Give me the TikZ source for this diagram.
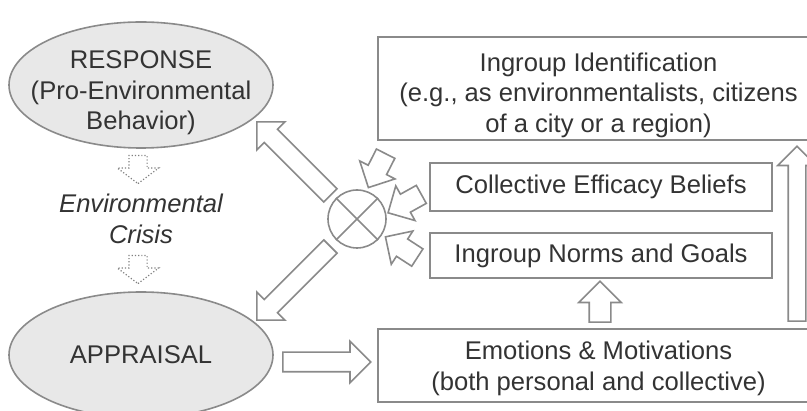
\documentclass[tikz,border=0pt]{standalone}
\usepackage{fontspec}
\setmainfont{Liberation Sans}
\usetikzlibrary{shapes.geometric,shapes.arrows}
\definecolor{linegray}{HTML}{8A8A8A}
\definecolor{txtgray}{HTML}{333333}
\definecolor{ovalfill}{HTML}{E8E8E8}
\newcommand\figfont{\fontsize{25.6}{30.5}\selectfont}
\begin{document}
\begin{tikzpicture}[x=1pt,y=-1pt,
    every node/.style={font=\figfont, text=txtgray},
    oval/.style={ellipse, draw=linegray, line width=1.6pt, fill=ovalfill,
        minimum width=264pt, minimum height=126pt, inner sep=0pt},
    box/.style={draw=linegray, line width=1.8pt, inner sep=0pt},
    blockarrow/.style={single arrow, draw=linegray, line width=1.6pt, fill=white,
        inner xsep=0pt, inner ysep=9pt, single arrow head extend=10.5pt, anchor=tail},
    smallarrow/.style={blockarrow, minimum height=38pt, inner ysep=9.5pt,
        single arrow head extend=9.5pt},
    crisisarrow/.style={single arrow, draw=gray, dotted, line width=1.2pt,
        inner xsep=0pt, inner ysep=8.5pt, single arrow head extend=11.5pt,
        single arrow tip angle=106, minimum height=28pt, anchor=tail, rotate=270}]
    \useasboundingbox (0,0) rectangle (807,411);

    \node[oval] (resp) at (141,85) {};
    \node[align=center] (resptxt) at (141,93) {RESPONSE\\(Pro-Environmental\\Behavior)};
    \node[oval] (appr) at (141,355) {};
    \node (apprtxt) at (appr) {APPRAISAL};
    \node[align=center, font=\figfont\itshape] (crisis) at (141,219) {Environmental\\Crisis};
    \node[crisisarrow] (crisisin) at (138,155) {};
    \node[crisisarrow] (crisisout) at (138,255) {};

    \node[box, minimum width=441pt, minimum height=103pt] (ident) at (598.5,88.5) {};
    \node[align=center] (identtxt) at (598.5,95) {Ingroup Identification\\(e.g., as environmentalists, citizens\\of a city or a region)};
    \node[box, minimum width=342pt, minimum height=48pt] (effic) at (601,187)
        {Collective Efficacy Beliefs};
    \node[box, minimum width=342pt, minimum height=45pt] (norms) at (601,255.5)
        {Ingroup Norms and Goals};
    \node[box, minimum width=441pt, minimum height=73pt] (emo) at (598.5,365.5) {};
    \node[align=center] (emotxt) at (598.5,368.5) {Emotions \& Motivations\\(both personal and collective)};

    \node[circle, draw=linegray, line width=1.6pt, minimum size=58pt, inner sep=0pt] (mix) at (357,219) {};
    \draw[linegray, line width=1.6pt] (mix.north west) -- (mix.south east)
        (mix.north east) -- (mix.south west);

    \node[blockarrow, minimum height=104pt, inner ysep=8.5pt, rotate=135] (toresp) at (331,196) {};
    \node[blockarrow, minimum height=104pt, inner ysep=8.5pt, rotate=225] (toappr) at (331,246) {};
    \node[smallarrow, rotate=243] (fromident) at (386,153) {};
    \node[smallarrow, rotate=209] (fromeffic) at (422,194) {};
    \node[smallarrow, rotate=147] (fromnorms) at (418,258) {};
    \node[blockarrow, minimum height=88pt, single arrow head extend=11pt] (toemo) at (282,362) {};
    \node[blockarrow, minimum height=41pt, inner ysep=10pt, rotate=90] (tonorms) at (600,323) {};
    \node[blockarrow, minimum height=175pt, inner ysep=8pt, rotate=90] (toident) at (797,322) {};
\end{tikzpicture}
\end{document}
